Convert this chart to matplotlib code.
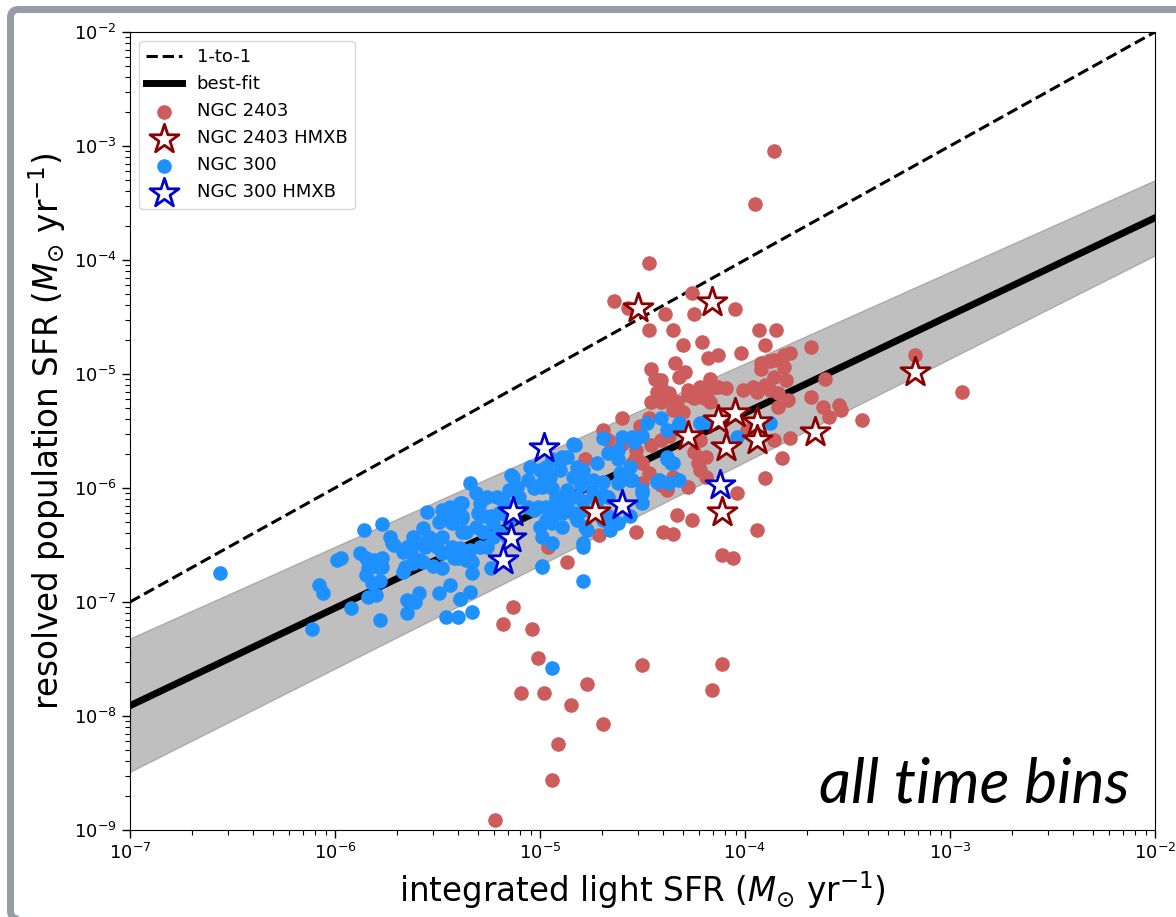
import numpy as np
import matplotlib
matplotlib.use("Agg")
import matplotlib.pyplot as plt
from matplotlib.patches import FancyBboxPatch
from matplotlib.transforms import IdentityTransform

# log10 SFR values, (integrated light, resolved population)
n300_x = [-6.56, -6.11, -6.08, -6.06, -5.92, -5.86, -5.77, -5.99, -5.97, -5.88,
          -5.85, -5.77, -5.79, -5.84, -5.73, -5.72, -5.65, -5.67, -5.62, -5.57,
          -5.55, -5.48, -5.44, -5.38, -5.34, -5.31, -5.49, -5.43, -5.38, -5.38,
          -5.48, -5.54, -5.59, -5.56, -5.62, -5.57, -5.52, -5.48, -5.42, -5.43,
          -5.48, -5.33, -5.33, -5.44, -5.49, -5.59, -5.65, -5.61, -5.39, -5.34,
          -5.46, -5.40, -5.33, -5.65, -5.78, -5.84, -5.80, -5.82, -5.85, -5.78,
          -5.67, -5.66, -5.71, -5.81, -5.77, -5.63, -5.59, -5.50, -5.45, -5.40,
          -5.39, -5.38, -5.36, -5.39, -5.34, -5.40, -5.36, -5.29, -5.26, -5.30,
          -5.27, -5.31, -5.28, -5.29, -5.26, -5.23, -5.20, -5.18, -5.15, -5.14,
          -5.11, -5.06, -5.05, -5.00, -4.97, -4.94, -4.89, -5.03, -4.99, -4.94,
          -4.92, -4.89, -4.95, -4.92, -4.89, -4.97, -4.94, -5.00, -4.99, -4.94,
          -5.10, -5.06, -5.03, -5.20, -5.16, -5.15, -5.24, -4.99, -5.23, -5.16,
          -4.41, -4.48, -4.38, -4.50, -4.55, -4.60, -4.69, -4.62, -4.67, -4.62,
          -4.56, -4.55, -4.50, -4.42, -4.38, -4.36, -4.32, -4.62, -4.67, -4.72,
          -4.79, -4.84, -4.82, -4.87, -4.90, -4.95, -4.99, -5.13, -5.01, -4.97,
          -4.92, -4.87, -4.82, -4.79, -4.72, -4.67, -4.62, -4.56, -4.66, -4.77,
          -4.82, -4.79, -5.21, -5.18, -5.24, -5.42, -4.89, -4.22, -4.19, -3.88,
          -4.04, -4.32, -4.54, -4.83, -4.72, -4.79, -4.84, -4.89, -4.87, -4.80,
          -4.74, -4.69, -4.61, -4.56, -4.50, -4.43, -4.37, -4.38, -4.35, -4.74,
          -4.69, -4.79, -4.69, -4.78, -4.79, -4.84, -4.50, -4.33, -4.79, -4.94,
          -4.99, -5.39]
n300_y = [-6.75, -7.24, -6.85, -6.92, -7.05, -6.37, -6.32, -6.63, -6.61, -6.57,
          -6.61, -6.61, -6.69, -6.70, -6.43, -6.48, -6.52, -6.56, -6.43, -6.35,
          -6.21, -6.19, -6.17, -6.13, -5.96, -6.04, -6.30, -6.31, -6.25, -6.39,
          -6.43, -6.43, -6.48, -6.52, -6.66, -6.65, -6.68, -6.57, -6.61, -6.52,
          -6.70, -6.75, -6.65, -6.85, -6.92, -6.92, -6.98, -7.00, -6.97, -6.91,
          -7.13, -7.13, -7.09, -7.10, -7.16, -6.96, -6.94, -6.83, -6.76, -6.82,
          -6.74, -6.69, -6.50, -6.63, -6.69, -6.57, -6.63, -6.52, -6.22, -6.22,
          -6.13, -6.26, -6.39, -6.53, -6.54, -6.61, -6.63, -6.13, -6.08, -6.22,
          -6.25, -6.34, -6.39, -6.52, -6.52, -6.31, -6.22, -6.11, -6.02, -5.89,
          -5.99, -5.93, -5.82, -5.84, -5.82, -5.75, -5.75, -6.00, -5.99, -6.00,
          -6.11, -6.11, -6.19, -6.22, -6.22, -6.28, -6.31, -6.34, -6.43, -6.48,
          -6.08, -6.17, -6.19, -6.39, -6.22, -6.28, -6.70, -6.69, -6.43, -6.43,
          -5.39, -5.43, -5.49, -5.54, -5.55, -5.55, -5.56, -5.67, -5.69, -5.75,
          -5.82, -5.93, -6.02, -5.93, -5.75, -5.78, -5.93, -5.96, -6.08, -6.11,
          -5.96, -5.61, -5.82, -5.73, -5.84, -5.90, -5.96, -5.90, -6.17, -6.17,
          -6.08, -6.13, -6.08, -6.19, -6.19, -6.25, -6.31, -6.25, -6.37, -6.37,
          -6.28, -6.48, -6.08, -6.22, -6.25, -6.19, -6.34, -5.43, -5.42, -5.43,
          -5.55, -5.43, -5.60, -5.62, -5.78, -5.84, -5.90, -5.73, -6.02, -5.97,
          -5.93, -5.95, -5.87, -5.93, -6.04, -5.95, -5.96, -5.73, -5.78, -6.04,
          -6.06, -6.11, -6.28, -6.34, -6.52, -6.22, -6.13, -5.47, -6.82, -7.58,
          -6.68, -6.97]

n300_hmxb_x = [-4.98, -5.13, -5.14, -5.18, -4.60, -4.12]
n300_hmxb_y = [-5.65, -6.21, -6.44, -6.63, -6.15, -5.97]

n2403_x = [-3.86, -3.95, -4.47, -4.64, -4.57, -4.26, -4.39, -4.25, -4.05, -4.47,
           -4.35, -3.93, -3.85, -4.30, -4.21, -3.90, -3.68, -4.13, -4.02, -4.18,
           -4.34, -3.81, -3.78, -4.46, -4.29, -3.92, -3.86, -4.44, -4.32, -4.41,
           -4.17, -3.92, -3.81, -3.80, -3.86, -4.46, -4.37, -4.28, -4.22, -4.13,
           -4.09, -4.01, -3.94, -3.88, -3.79, -3.68, -3.62, -3.54, -3.53, -3.59,
           -3.43, -3.61, -4.34, -4.25, -4.17, -4.47, -4.60, -3.78, -3.82, -3.90,
           -3.17, -2.94, -4.41, -4.43, -4.41, -4.37, -4.33, -4.28, -4.20, -4.16,
           -3.96, -3.90, -3.88, -4.35, -4.30, -4.51, -4.69, -4.67, -4.37, -4.46,
           -4.53, -4.50, -4.47, -4.50, -4.41, -4.38, -4.23, -4.19, -4.19, -4.22,
           -4.41, -4.25, -4.04, -4.28, -4.33, -4.26, -3.94, -4.53, -4.40, -4.35,
           -4.11, -4.06, -4.60, -4.78, -4.53, -4.55, -4.35, -4.42, -4.96, -4.87,
           -5.13, -5.18, -5.04, -5.01, -5.09, -4.98, -4.85, -4.77, -4.69, -4.91,
           -4.94, -5.22, -4.50, -4.11, -4.16, -4.71, -3.84, -3.84, -3.86, -3.99,
           -4.22]
n2403_y = [-3.04, -3.51, -4.03, -4.36, -4.42, -4.29, -4.47, -4.47, -4.43, -4.61,
           -4.61, -4.61, -4.61, -4.75, -4.72, -4.75, -4.76, -4.83, -4.82, -4.86,
           -4.90, -4.83, -4.82, -4.96, -4.98, -4.90, -4.88, -5.04, -5.03, -5.11,
           -5.04, -4.96, -4.94, -5.05, -5.03, -5.25, -5.17, -5.14, -5.11, -5.11,
           -5.12, -5.14, -5.16, -5.14, -5.23, -5.20, -5.29, -5.27, -5.32, -5.38,
           -5.40, -5.04, -5.25, -5.21, -5.25, -5.39, -5.39, -5.56, -5.74, -5.91,
           -4.83, -5.16, -5.05, -5.16, -5.25, -5.20, -5.25, -5.18, -5.21, -5.12,
           -5.11, -5.10, -4.89, -5.32, -5.33, -5.46, -5.49, -5.58, -5.54, -5.62,
           -5.73, -5.78, -5.87, -5.96, -5.97, -6.02, -5.78, -5.90, -5.73, -5.58,
           -5.58, -5.68, -6.04, -5.99, -6.24, -6.28, -6.37, -6.39, -6.39, -6.40,
           -6.59, -6.61, -5.61, -5.75, -5.67, -5.78, -5.90, -5.93, -6.52, -6.65,
           -7.04, -7.19, -7.24, -7.49, -7.80, -7.80, -7.90, -7.72, -8.07, -8.25,
           -8.56, -8.91, -7.55, -7.54, -7.77, -6.41, -5.17, -5.29, -5.58, -5.49,
           -5.84]

n2403_hmxb_x = [-4.52, -4.16, -3.17, -4.73, -4.28, -4.13, -4.05, -3.94, -4.09,
                -3.94, -4.11, -3.66]
n2403_hmxb_y = [-4.42, -4.37, -4.98, -6.21, -5.54, -5.40, -5.34, -5.42, -5.64,
                -5.58, -6.21, -5.51]

# best-fit relation and its envelope at the plot edges
edge_x = [1e-7, 1e-2]
fit_y = [10**-7.91, 10**-3.63]
fit_lo = [10**-8.49, 10**-3.96]
fit_hi = [10**-7.32, 10**-3.30]

fig = plt.figure(figsize=(11.76, 9.17), dpi=100)
ax = fig.add_axes([0.1105, 0.0949, 0.8716, 0.8702])

ax.fill_between(edge_x, fit_lo, fit_hi, color='grey', alpha=0.5, zorder=1)
ax.plot(edge_x, edge_x, 'k--', lw=2.2, label='1-to-1', zorder=2)
ax.plot(edge_x, fit_y, 'k-', lw=5, label='best-fit', zorder=2)

ax.scatter(10**np.array(n2403_x), 10**np.array(n2403_y), s=90,
           color='indianred', label='NGC 2403', zorder=3)
ax.scatter(10**np.array(n300_x), 10**np.array(n300_y), s=90,
           color='dodgerblue', label='NGC 300', zorder=4)
ax.scatter(10**np.array(n2403_hmxb_x), 10**np.array(n2403_hmxb_y), s=480,
           marker='*', facecolor='white', edgecolor='darkred', linewidths=2,
           label='NGC 2403 HMXB', zorder=5)
ax.scatter(10**np.array(n300_hmxb_x), 10**np.array(n300_hmxb_y), s=480,
           marker='*', facecolor='white', edgecolor='mediumblue', linewidths=2,
           label='NGC 300 HMXB', zorder=6)

ax.set_xscale('log')
ax.set_yscale('log')
ax.set_xlim(1e-7, 1e-2)
ax.set_ylim(1e-9, 1e-2)
ax.tick_params(which='major', labelsize=13, length=6, width=1)
ax.tick_params(which='minor', length=3.5, width=0.8)
ax.set_xlabel(r'integrated light SFR ($M_{\odot}$ yr$^{-1}$)', fontsize=23.5)
ax.set_ylabel(r'resolved population SFR ($M_{\odot}$ yr$^{-1}$)', fontsize=23.5)

h, l = ax.get_legend_handles_labels()
order = [l.index(k) for k in ['1-to-1', 'best-fit', 'NGC 2403', 'NGC 2403 HMXB',
                              'NGC 300', 'NGC 300 HMXB']]
ax.legend([h[i] for i in order], [l[i] for i in order], loc='upper left',
          fontsize=13)

ax.text(0.975, 0.034, 'all time bins', transform=ax.transAxes, ha='right',
        va='baseline', fontsize=45, style='italic', family='Lato')

# rounded grey frame around the figure
frame = FancyBboxPatch((10.5, -2), 1190, 909.5, boxstyle='round,pad=0,rounding_size=8',
                       transform=IdentityTransform(), facecolor='none',
                       edgecolor='#949da6', lw=5.0)
fig.patches.append(frame)

fig.savefig('out.png', dpi=100)
